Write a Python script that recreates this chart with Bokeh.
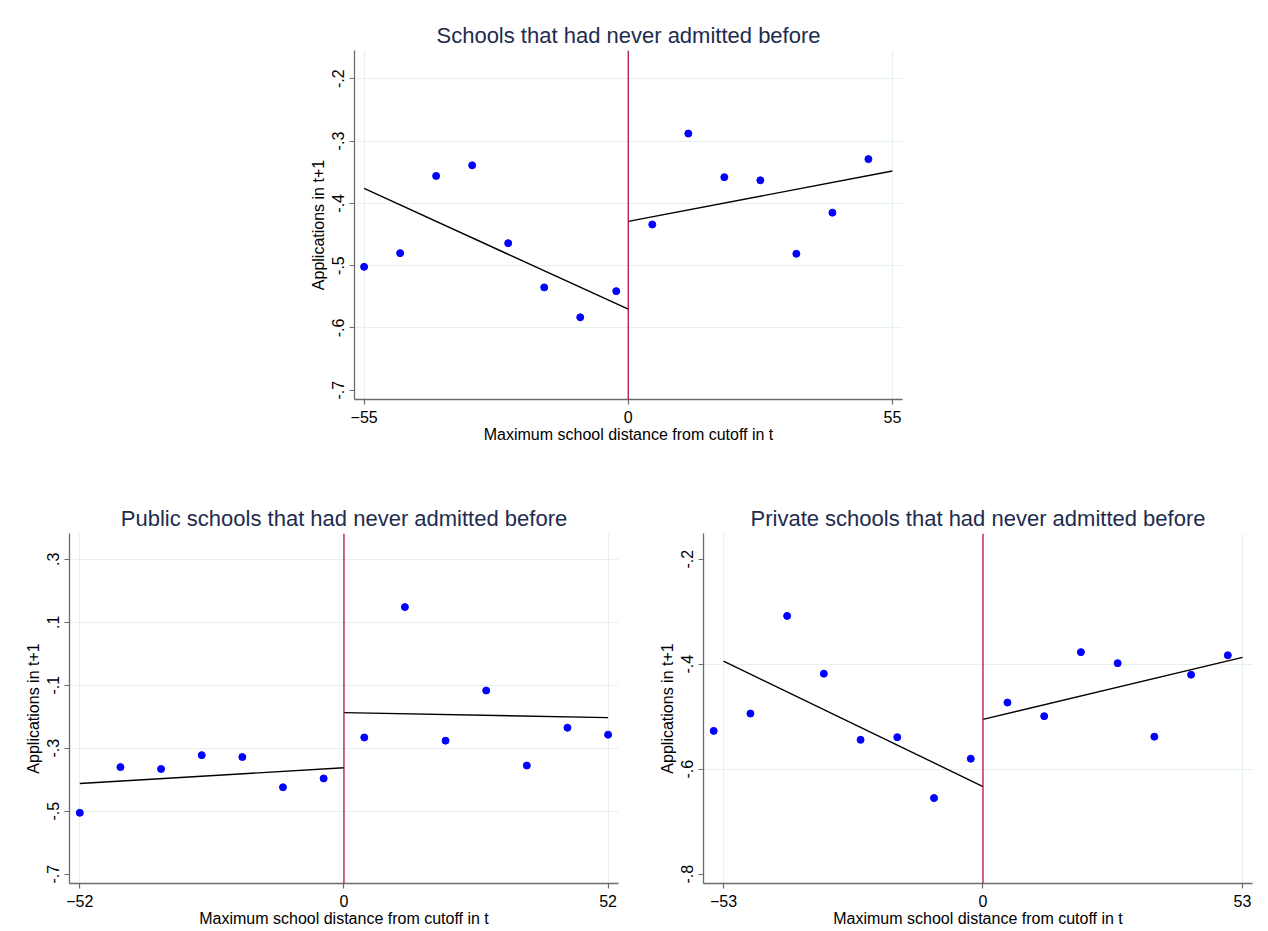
from bokeh.plotting import figure
from bokeh.layouts import column, row
from bokeh.models import FixedTicker, Span, Range1d
from bokeh.embed import file_html
from bokeh.resources import INLINE

# ---------------- data ----------------
# Panel 1: all schools
p1_title = "Schools that had never admitted before"
p1_x = [-55, -47.5, -40, -32.5, -25, -17.5, -10, -2.5, 5, 12.5, 20, 27.5, 35, 42.5, 50]
p1_y = [-0.502, -0.480, -0.356, -0.339, -0.464, -0.535, -0.583, -0.541,
        -0.434, -0.288, -0.358, -0.363, -0.481, -0.415, -0.329]
p1_fit_left_x = [-55, 0]
p1_fit_left_y = [-0.376, -0.570]
p1_fit_right_x = [0, 55]
p1_fit_right_y = [-0.429, -0.348]
p1_xticks = [-55, 0, 55]
p1_xgrid = [-55, 55]
p1_yticks = [-0.7, -0.6, -0.5, -0.4, -0.3, -0.2]
p1_ylabels = ["-.7", "-.6", "-.5", "-.4", "-.3", "-.2"]
p1_ygrid = [-0.6, -0.5, -0.4, -0.3, -0.2]
p1_xrange = (-57.0, 57.1)
p1_yrange = (-0.715, -0.1546)

# Panel 2: public schools
p2_title = "Public schools that had never admitted before"
p2_x = [-52, -44, -36, -28, -20, -12, -4, 4, 12, 20, 28, 36, 44, 52]
p2_y = [-0.505, -0.360, -0.366, -0.322, -0.328, -0.424, -0.396,
        -0.266, 0.148, -0.276, -0.117, -0.355, -0.235, -0.257]
p2_fit_left_x = [-52, 0]
p2_fit_left_y = [-0.412, -0.362]
p2_fit_right_x = [0, 52]
p2_fit_right_y = [-0.187, -0.203]
p2_xticks = [-52, 0, 52]
p2_xgrid = [-52, 52]
p2_yticks = [-0.7, -0.5, -0.3, -0.1, 0.1, 0.3]
p2_ylabels = ["-.7", "-.5", "-.3", "-.1", ".1", ".3"]
p2_ygrid = [-0.5, -0.3, -0.1, 0.1, 0.3]
p2_xrange = (-54.03, 54.05)
p2_yrange = (-0.7295, 0.3816)

# Panel 3: private schools
p3_title = "Private schools that had never admitted before"
p3_x = [-55, -47.5, -40, -32.5, -25, -17.5, -10, -2.5, 5, 12.5, 20, 27.5, 35, 42.5, 50]
p3_y = [-0.527, -0.494, -0.308, -0.418, -0.544, -0.539, -0.655, -0.580,
        -0.473, -0.499, -0.377, -0.398, -0.538, -0.420, -0.383]
p3_fit_left_x = [-53, 0]
p3_fit_left_y = [-0.394, -0.633]
p3_fit_right_x = [0, 53]
p3_fit_right_y = [-0.505, -0.387]
p3_xticks = [-53, 0, 53]
p3_xgrid = [-53, 53]
p3_yticks = [-0.8, -0.6, -0.4, -0.2]
p3_ylabels = ["-.8", "-.6", "-.4", "-.2"]
p3_ygrid = [-0.6, -0.4]
p3_xrange = (-57.08, 55.04)
p3_yrange = (-0.8177, -0.151)

x_label = "Maximum school distance from cutoff in t"
y_label = "Applications in t+1"

FONT = "Liberation Sans"
TITLE_COLOR = "#1e2c4e"
GRID_COLOR = "#e6eff1"
AXIS_COLOR = "#6b6b6b"
DOT_COLOR = "#0000ff"
CUT_COLOR = "#b0123c"


def make_panel(title, xs, ys, flx, fly, frx, fry, xticks, xgrid, yticks, ylabels,
               ygrid, xr, yr, fw, fh, bl, br, bt, bb):
    p = figure(frame_width=fw, frame_height=fh, x_range=Range1d(*xr), y_range=Range1d(*yr),
               output_backend="svg", toolbar_location=None, title=title,
               min_border_left=bl, min_border_right=br, min_border_top=bt, min_border_bottom=bb)
    p.outline_line_color = None
    p.background_fill_color = "white"
    p.border_fill_color = "white"

    p.title.align = "center"
    p.title.text_font = FONT
    p.title.text_font_size = "22px"
    p.title.text_font_style = "normal"
    p.title.text_color = TITLE_COLOR
    p.title.standoff = 5

    p.xaxis.ticker = FixedTicker(ticks=xticks)
    p.yaxis.ticker = FixedTicker(ticks=yticks)
    p.yaxis.major_label_overrides = dict(zip(yticks, ylabels))
    p.yaxis.major_label_orientation = "vertical"
    p.xgrid.ticker = FixedTicker(ticks=xgrid)
    p.ygrid.ticker = FixedTicker(ticks=ygrid)
    p.grid.grid_line_color = GRID_COLOR
    p.grid.grid_line_width = 1.2

    for ax in (p.xaxis, p.yaxis):
        ax.axis_line_color = AXIS_COLOR
        ax.axis_line_width = 1.3
        ax.major_tick_line_color = AXIS_COLOR
        ax.major_tick_line_width = 1.2
        ax.major_tick_out = 5
        ax.major_tick_in = 0
        ax.minor_tick_line_color = None
        ax.major_label_text_font = FONT
        ax.major_label_text_font_size = "16px"
        ax.major_label_text_color = "black"
        ax.axis_label_text_font = FONT
        ax.axis_label_text_font_size = "16px"
        ax.axis_label_text_font_style = "normal"
        ax.axis_label_text_color = "black"
    p.xaxis.major_label_standoff = 6
    p.xaxis.axis_label_standoff = 0
    p.yaxis.major_label_standoff = 5
    p.yaxis.axis_label_standoff = 3
    p.xaxis.axis_label = x_label
    p.yaxis.axis_label = y_label

    p.add_layout(Span(location=0, dimension="height", line_color=CUT_COLOR, line_width=1.3))
    p.line(flx, fly, line_color="black", line_width=1.4)
    p.line(frx, fry, line_color="black", line_width=1.4)
    p.scatter(xs, ys, size=7, fill_color=DOT_COLOR, line_color=DOT_COLOR)
    return p


p1 = make_panel(p1_title, p1_x, p1_y, p1_fit_left_x, p1_fit_left_y, p1_fit_right_x, p1_fit_right_y,
                p1_xticks, p1_xgrid, p1_yticks, p1_ylabels, p1_ygrid, p1_xrange, p1_yrange,
                548, 349, 354, 10, 50, 80)
p2 = make_panel(p2_title, p2_x, p2_y, p2_fit_left_x, p2_fit_left_y, p2_fit_right_x, p2_fit_right_y,
                p2_xticks, p2_xgrid, p2_yticks, p2_ylabels, p2_ygrid, p2_xrange, p2_yrange,
                549, 350, 69, 10, 54, 38)
p3 = make_panel(p3_title, p3_x, p3_y, p3_fit_left_x, p3_fit_left_y, p3_fit_right_x, p3_fit_right_y,
                p3_xticks, p3_xgrid, p3_yticks, p3_ylabels, p3_ygrid, p3_xrange, p3_yrange,
                549, 350, 75, 8, 54, 38)

layout = column(row(p1), row(p2, p3))
open("out.html", "w").write(file_html(layout, INLINE))
